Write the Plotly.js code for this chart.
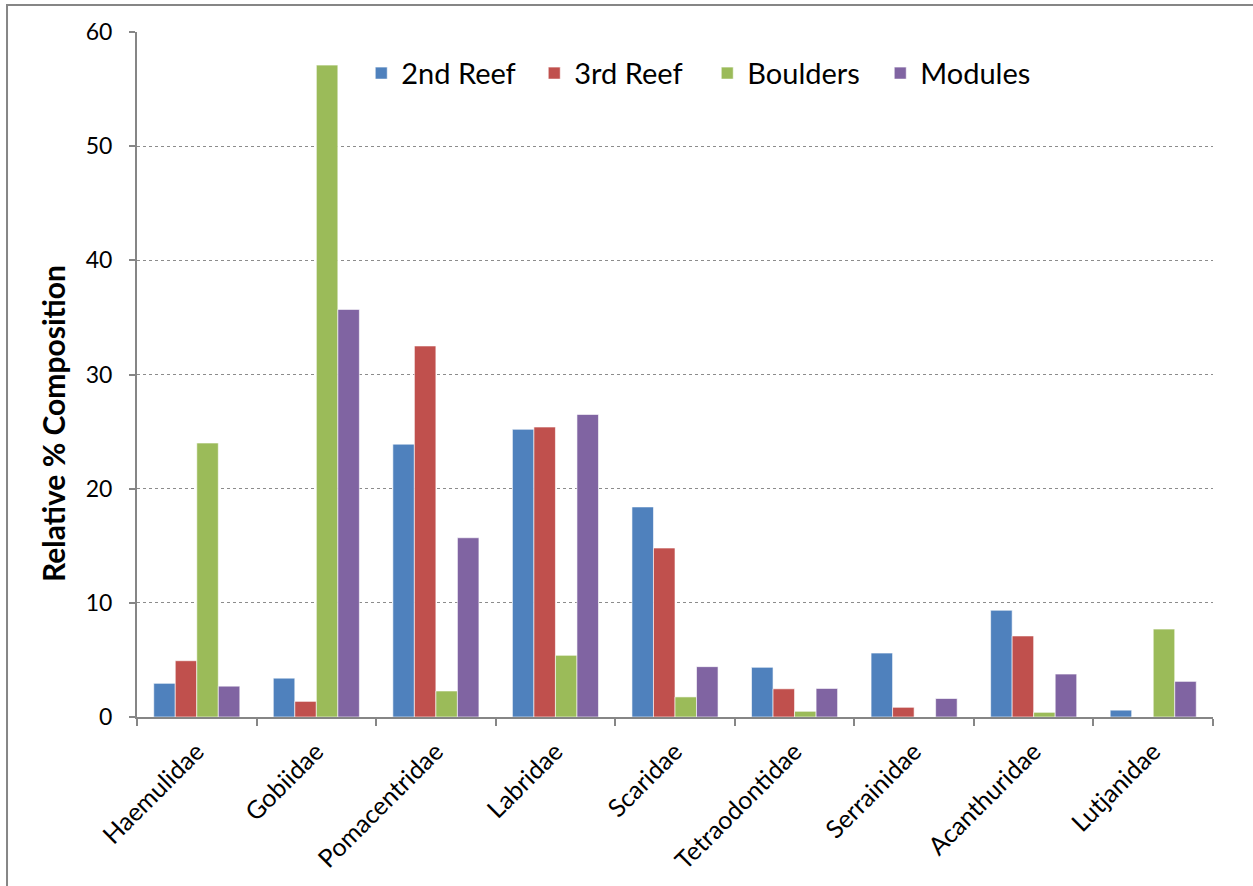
<!DOCTYPE html>
<html>
<head>
<meta charset="utf-8">
<script src="https://cdn.plot.ly/plotly-3.0.1.min.js"></script>
<style>html,body{margin:0;padding:0;background:#fff;}#chart{width:1253px;height:886px;}</style>
</head>
<body>
<div id="chart"></div>
<script>
const families = ["Haemulidae","Gobiidae","Pomacentridae","Labridae","Scaridae","Tetraodontidae","Serrainidae","Acanthuridae","Lutjanidae"];
const reef2 = [2.95, 3.4, 23.9, 25.2, 18.4, 4.35, 5.6, 9.35, 0.6];
const reef3 = [4.93, 1.37, 32.5, 25.4, 14.8, 2.47, 0.85, 7.1, 0];
const boulders = [24.0, 57.1, 2.28, 5.4, 1.76, 0.5, 0, 0.41, 7.7];
const modules = [2.7, 35.7, 15.7, 26.5, 4.41, 2.5, 1.62, 3.76, 3.12];
const seriesNames = ["2nd Reef","3rd Reef","Boulders","Modules"];
const colors = ["#4F81BD","#C0504D","#9BBB59","#8064A2"];
const yTicks = [0,10,20,30,40,50,60];
const yTitle = "Relative % Composition";

const FONT = "Lato, 'Open Sans', sans-serif";
const data = [reef2, reef3, boulders, modules].map((vals, i) => ({
  type: "bar",
  name: seriesNames[i],
  x: families,
  y: vals,
  marker: {color: colors[i], line: {color: "rgba(255,255,255,0.6)", width: 1}},
  hoverinfo: "x+y+name"
}));

const layout = {
  width: 1253, height: 886,
  margin: {l: 137, r: 40, t: 32, b: 169},
  paper_bgcolor: "#fff", plot_bgcolor: "#fff",
  font: {family: FONT, size: 23, color: "#000"},
  barmode: "group",
  bargap: 0.28,
  bargroupgap: 0,
  showlegend: true,
  legend: {
    orientation: "h", x: 0.2084, y: 0.977, xanchor: "left", yanchor: "top",
    font: {family: FONT, size: 29, color: "#000"},
    entrywidth: 128, entrywidthmode: "pixels",
    tracegroupgap: 0,
    bgcolor: "rgba(0,0,0,0)"
  },
  xaxis: {
    type: "category",
    tickangle: -45,
    showline: true, linecolor: "#868686", linewidth: 2,
    ticks: "outside", tickson: "boundaries", ticklen: 7, tickcolor: "#868686", tickwidth: 2,
    showgrid: false, zeroline: false,
    tickfont: {family: FONT, size: 25, color: "#000"},
    ticklabelstandoff: 8
  },
  yaxis: {
    range: [0, 60],
    tickvals: yTicks,
    ticktext: yTicks.map(String),
    showline: true, linecolor: "#868686", linewidth: 2,
    ticks: "outside", ticklen: 6, tickcolor: "#868686", tickwidth: 2,
    showgrid: true, gridcolor: "#8c8c8c", griddash: "dot", gridwidth: 1,
    zeroline: false,
    tickfont: {family: FONT, size: 23, color: "#000"},
    ticklabelstandoff: 12
  },
  annotations: [{
    text: "<b>" + yTitle + "</b>", xref: "paper", yref: "paper",
    x: -0.0781, y: 0.429, xanchor: "center", yanchor: "middle",
    textangle: -90, showarrow: false,
    font: {family: FONT, size: 30, color: "#000"}
  }],
  shapes: [{
    type: "path", xref: "paper", yref: "paper",
    path: "M -0.1208 -0.3 L -0.1208 1.0394 L 1.1 1.0394",
    line: {color: "#868686", width: 2}
  }]
};

Plotly.newPlot("chart", data, layout, {displayModeBar: false, staticPlot: true});
</script>
</body>
</html>
